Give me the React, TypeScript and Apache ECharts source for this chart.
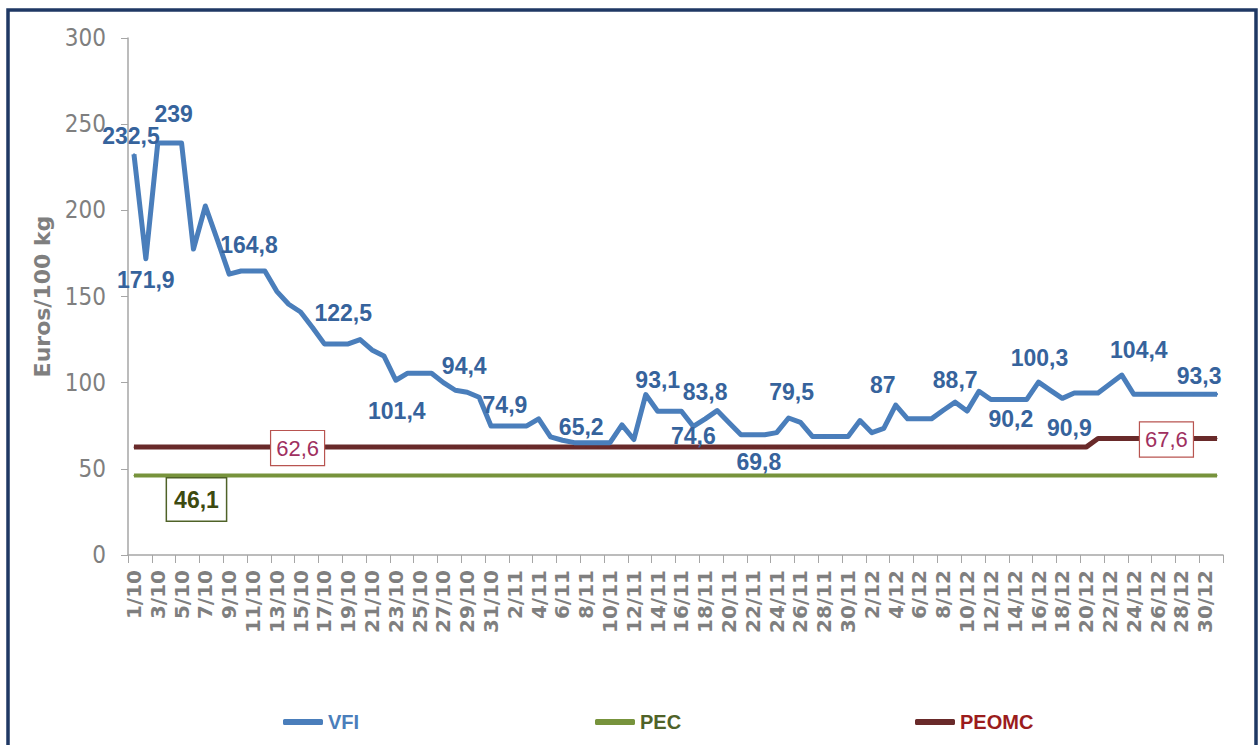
import React, { useEffect, useRef } from "react";
import * as echarts from "echarts";

// ---- data ----
const MONTHS = [10, 11, 12];
const MONTH_DAYS = [31, 30, 31];
const CATEGORIES: string[] = [];
MONTHS.forEach((m, k) => {
  for (let d = 1; d <= MONTH_DAYS[k]; d++) CATEGORIES.push(`${d}/${m}`);
});

const VFI = [
  232.5, 171.9, 239, 239, 239, 177.5, 202.5, 183, 163, 164.8,
  164.8, 164.8, 153, 145.5, 141, 132, 122.5, 122.5, 122.5, 125,
  119, 115.5, 101.4, 105.5, 105.5, 105.5, 100, 95.6, 94.4, 91.5,
  74.9, 74.9, 74.9, 74.9, 79, 68.6, 66.6, 65.2, 65.2, 65.2,
  65.2, 75.5, 67, 93.1, 83.4, 83.4, 83.4, 74.6, 79, 83.8,
  76.8, 69.8, 69.8, 69.8, 71, 79.5, 77, 68.8, 68.8, 68.8,
  68.8, 78, 71, 73.5, 87, 79, 79, 79, 84, 88.7,
  83.5, 95, 90.2, 90.2, 90.2, 90.2, 100.3, 95.5, 90.9, 94,
  94, 94, 99.2, 104.4, 93.3, 93.3, 93.3, 93.3, 93.3, 93.3,
  93.3, 93.3,
];
const PEC_VALUE = 46.1;
const PEOMC_FIRST = 62.6;
const PEOMC_SECOND = 67.6;
const PEOMC_SWITCH_INDEX = 81;

const PEC = CATEGORIES.map(() => PEC_VALUE);
const PEOMC = CATEGORIES.map((_, i) => (i < PEOMC_SWITCH_INDEX ? PEOMC_FIRST : PEOMC_SECOND));

const Y_MIN = 0;
const Y_MAX = 300;
const Y_STEP = 50;

// label layout (which points carry a label, and the nudge of each)
const VFI_LABELS = [
  { i: 0, dx: -3, dy: -18 },
  { i: 1, dx: 0, dy: 21 },
  { i: 3, dx: 4, dy: -29 },
  { i: 10, dx: -4, dy: -26 },
  { i: 18, dx: -5, dy: -31 },
  { i: 22, dx: 1, dy: 31 },
  { i: 28, dx: -3, dy: -26 },
  { i: 31, dx: 2, dy: -21 },
  { i: 38, dx: -5, dy: -16 },
  { i: 43, dx: 12, dy: -15 },
  { i: 47, dx: 0, dy: 10 },
  { i: 49, dx: -12, dy: -19 },
  { i: 52, dx: 6, dy: 27 },
  { i: 55, dx: 3, dy: -26 },
  { i: 64, dx: -13, dy: -20 },
  { i: 69, dx: 0, dy: -22 },
  { i: 73, dx: 8, dy: 19 },
  { i: 76, dx: 1, dy: -24 },
  { i: 78, dx: 7, dy: 30 },
  { i: 83, dx: 17, dy: -25 },
  { i: 90, dx: -6, dy: -18 },
];
const PEOMC_LABELS = [
  { i: 14, dx: -3, dy: 1 },
  { i: 87, dx: -3, dy: 1 },
];
const PEC_LABELS = [{ i: 5, dx: 3, dy: 24 }];

const SANS = "'Liberation Sans', Arial, sans-serif";
const COND = "'DejaVu Sans Condensed', 'Liberation Sans', sans-serif";
const WIDE = "'DejaVu Sans', Verdana, sans-serif";

const fmt = (p: any) => String(p.value).replace(".", ",");

function withLabels(values: number[], specs: { i: number; dx: number; dy: number }[]) {
  return values.map((v, i) => {
    const s = specs.find((x) => x.i === i);
    if (!s) return v;
    return { value: v, label: { show: true, offset: [s.dx, s.dy] } };
  });
}

export default function App() {
  const ref = useRef<HTMLDivElement>(null);
  useEffect(() => {
    if (!ref.current) return;
    const chart = echarts.init(ref.current, undefined, { renderer: "svg" });
    const legendText = { fontFamily: SANS, fontWeight: "bold", fontSize: 20 };
    const option: any = {
      animation: false,
      backgroundColor: "#ffffff",
      grid: { left: 128, right: 37, top: 38, bottom: 190, containLabel: false },
      xAxis: {
        type: "category",
        data: CATEGORIES,
        boundaryGap: true,
        axisLine: { lineStyle: { color: "#a6a6a6", width: 1.5 } },
        axisTick: { show: true, interval: 1, length: 8, lineStyle: { color: "#a6a6a6" } },
        axisLabel: {
          interval: 1,
          rotate: 90,
          margin: 15,
          color: "#7f7f7f",
          fontFamily: WIDE,
          fontWeight: "bold",
          fontSize: 20,
        },
        splitLine: { show: false },
      },
      yAxis: {
        type: "value",
        min: Y_MIN,
        max: Y_MAX,
        interval: Y_STEP,
        name: "Euros/100 kg",
        nameLocation: "middle",
        nameGap: 70,
        nameTextStyle: { color: "#7f7f7f", fontFamily: WIDE, fontWeight: "bold", fontSize: 22 },
        axisLine: { show: true, lineStyle: { color: "#a6a6a6", width: 1.5 } },
        axisTick: { show: true, length: 7, lineStyle: { color: "#a6a6a6" } },
        axisLabel: { color: "#7f7f7f", fontFamily: COND, fontSize: 24, margin: 22 },
        splitLine: { show: false },
      },
      legend: [
        {
          left: 278,
          top: 707,
          icon: "roundRect",
          itemWidth: 40,
          itemHeight: 6,
          data: [{ name: "VFI", textStyle: { color: "#4a7ebb" } }],
          textStyle: legendText,
        },
        {
          left: 590,
          top: 707,
          icon: "roundRect",
          itemWidth: 40,
          itemHeight: 6,
          data: [{ name: "PEC", textStyle: { color: "#4f6228" } }],
          textStyle: legendText,
        },
        {
          left: 910,
          top: 707,
          icon: "roundRect",
          itemWidth: 40,
          itemHeight: 6,
          data: [{ name: "PEOMC", textStyle: { color: "#9b1c1c" } }],
          textStyle: legendText,
        },
      ],
      series: [
        {
          name: "PEC",
          type: "line",
          data: withLabels(PEC, PEC_LABELS),
          symbol: "circle",
          symbolSize: 1,
          showSymbol: true,
          showAllSymbol: true,
          lineStyle: { color: "#77933c", width: 4 },
          itemStyle: { color: "#77933c" },
          label: {
            show: false,
            position: "inside",
            formatter: fmt,
            color: "#3d4a10",
            fontFamily: SANS,
            fontWeight: "bold",
            fontSize: 23,
            lineHeight: 23,
            backgroundColor: "#ffffff",
            borderColor: "#4f6228",
            borderWidth: 1.5,
            padding: [10, 7, 9, 7],
          },
          z: 2,
        },
        {
          name: "PEOMC",
          type: "line",
          data: withLabels(PEOMC, PEOMC_LABELS),
          symbol: "circle",
          symbolSize: 1,
          showSymbol: true,
          showAllSymbol: true,
          lineStyle: { color: "#692a2a", width: 5 },
          itemStyle: { color: "#692a2a" },
          label: {
            show: false,
            position: "inside",
            formatter: fmt,
            color: "#a0305f",
            fontFamily: SANS,
            fontSize: 22,
            lineHeight: 22,
            backgroundColor: "#ffffff",
            borderColor: "#b85450",
            borderWidth: 1.2,
            padding: [6, 5, 6, 5],
          },
          z: 3,
        },
        {
          name: "VFI",
          type: "line",
          data: withLabels(VFI, VFI_LABELS),
          symbol: "circle",
          symbolSize: 2,
          showSymbol: true,
          showAllSymbol: true,
          lineStyle: { color: "#4a7ebb", width: 5, join: "round" },
          itemStyle: { color: "#4a7ebb" },
          label: {
            show: false,
            position: "inside",
            formatter: fmt,
            color: "#36639c",
            fontFamily: SANS,
            fontWeight: "bold",
            fontSize: 23,
            lineHeight: 20,
          },
          z: 4,
        },
      ],
      graphic: [
        {
          type: "rect",
          shape: { x: 8, y: 10, width: 1248, height: 800 },
          style: { fill: "none", stroke: "#1f3864", lineWidth: 3.5 },
          silent: true,
          z: 100,
        },
      ],
    };
    chart.setOption(option);
    return () => chart.dispose();
  }, []);
  return (
    <div
      ref={ref}
      style={{ position: "fixed", left: 0, top: 0, width: 1260, height: 745 }}
    />
  );
}
